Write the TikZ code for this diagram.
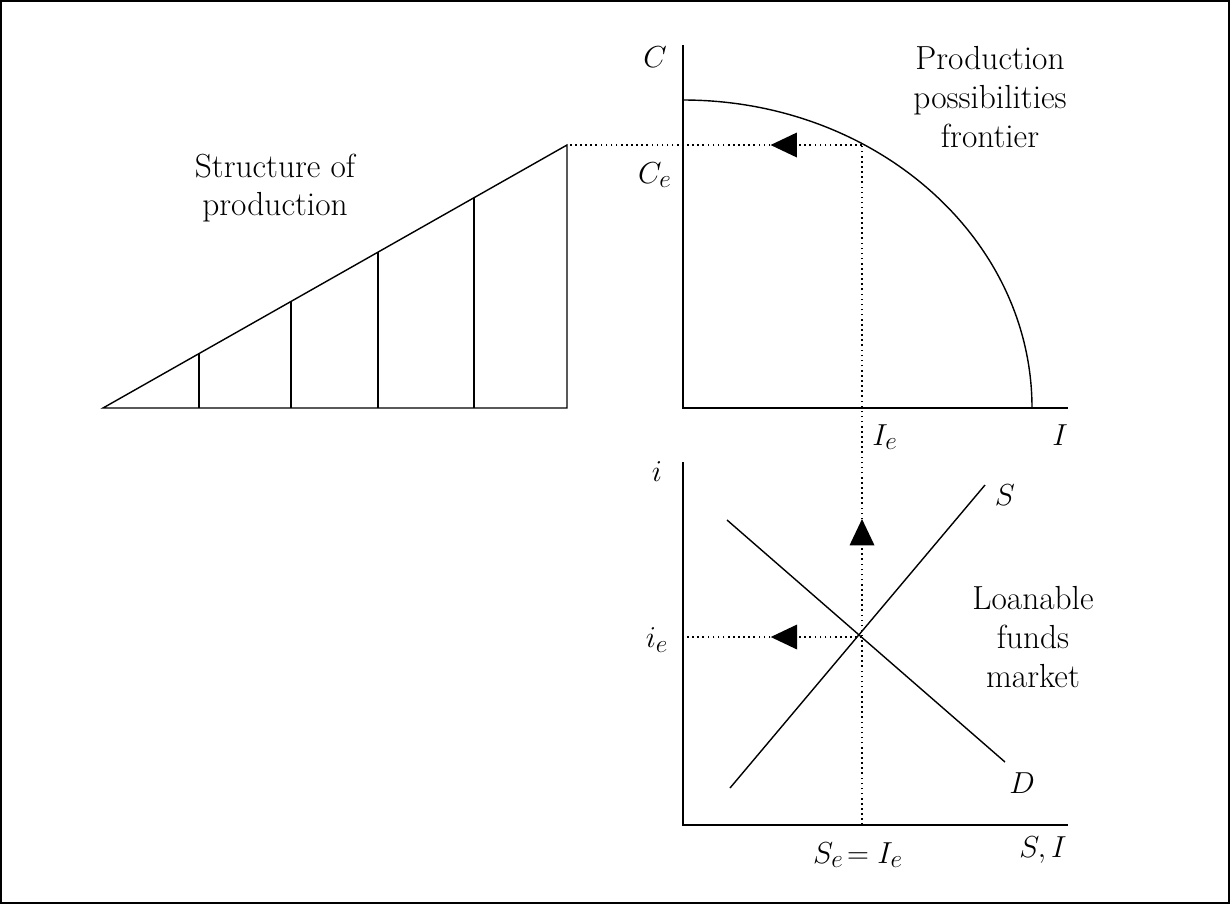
\documentclass[tikz,border=0pt]{standalone}
\usetikzlibrary{arrows.meta,decorations.markings}

\begin{document}
\begin{tikzpicture}[x=0.02cm,y=-0.02cm,
        lab/.style={font=\fontsize{19}{22}\selectfont,align=center},
        ax/.style={line width=0.8pt},
        guide/.style={dotted,line width=0.9pt},
        mid arrow/.style={postaction={decorate},decoration={markings,
          mark=at position #1 with {\arrow{Triangle[length=15pt,width=14pt]}}}}]
        \useasboundingbox (0,0) rectangle (1230,904);
        \draw[line width=0.6pt] (1,1) rectangle (1229,903);

        % production possibilities frontier
        \coordinate (ppfO) at (683,408);
        \coordinate (ppfC) at (683,45);
        \coordinate (ppfI) at (1068,408);
        \coordinate (ppfE) at (862,145);
        \draw[ax] (ppfC) -- (ppfO) -- (ppfI);
        \draw[ax] (683,100) arc[start angle=90,end angle=0,x radius=349,y radius=-308];
        \node[lab] (c) at (655,57) {$C$};
        \node[lab] (ce) at (655,175) {$C_e$};
        \node[lab] (ie) at (885,437) {$I_e$};
        \node[lab] (i) at (1060,435) {$I$};
        \node[lab] (ppf) at (990,97) {Production\\possibilities\\frontier};

        % structure of production
        \coordinate (sA) at (103,408);
        \coordinate (sB) at (567,145);
        \coordinate (sC) at (567,408);
        \draw[ax] (sA) -- (sB) -- (sC) -- cycle;
        \foreach \x in {199,291,378,474}
          \draw[ax] (\x,408) -- (\x,{408-(\x-103)*0.5668});
        \node[lab] (sop) at (275,188) {Structure of\\production};

        % loanable funds market
        \coordinate (lfO) at (683,825);
        \coordinate (lfi) at (683,462);
        \coordinate (lfX) at (1068,825);
        \coordinate (lfE) at (862,637);
        \draw[ax] (lfi) -- (lfO) -- (lfX);
        \draw[ax] (730,788) -- (985,485);
        \draw[ax] (727,520) -- (1005,762);
        \node[lab] (ri) at (657,472) {$i$};
        \node[lab] (rie) at (657,640) {$i_e$};
        \node[lab] (s) at (1005,495) {$S$};
        \node[lab] (d) at (1022,783) {$D$};
        \node[lab] (lfm) at (1033,637) {Loanable\\funds\\market};
        \node[lab] (sei) at (858,855) {$S_e\!=I_e$};
        \node[lab] (si) at (1043,850) {$S, I$};

        % guides
        \draw[guide,mid arrow=0.31] (ppfE) -- (sB);
        \draw[guide,mid arrow=0.45] (862,825) -- (ppfE);
        \draw[guide,mid arrow=0.51] (lfE) -- (683,637);
\end{tikzpicture}
\end{document}
